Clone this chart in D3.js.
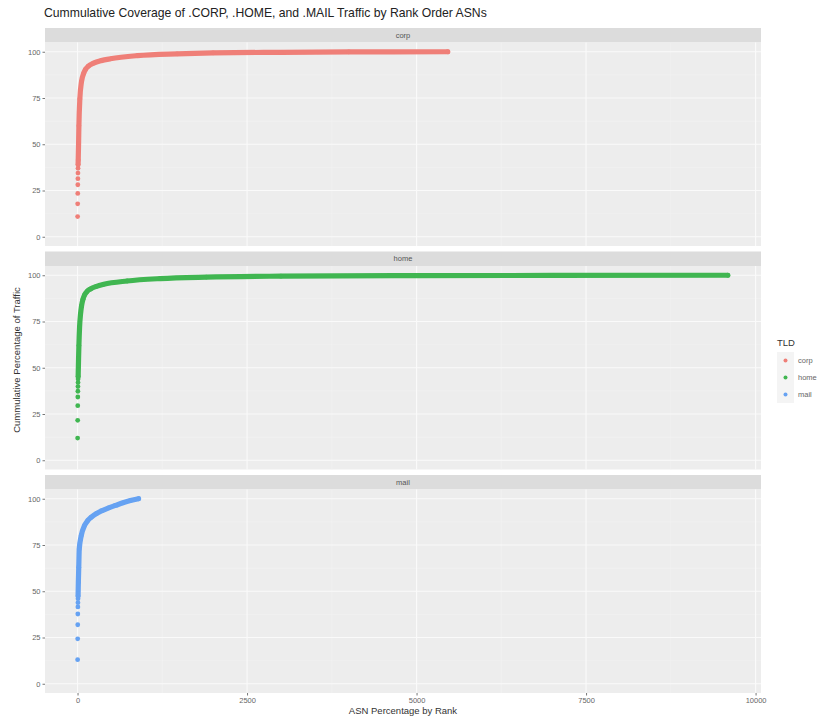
<!DOCTYPE html>
<html>
<head>
<meta charset="utf-8">
<script src="https://cdnjs.cloudflare.com/ajax/libs/d3/7.8.5/d3.min.js"></script>
<style>
  body { margin: 0; background: #fff; }
  svg { font-family: "Liberation Sans", Arial, sans-serif; }
</style>
</head>
<body>
<svg id="chart" width="817" height="717"></svg>
<script>
// facet names and colours (ggplot defaults)
var tlds = ["corp", "home", "mail"];
var colors = ["#EF7F78", "#40B651", "#66A2F2"];

// rank order of ASN vs cumulative % of traffic
var corpRank = [1, 2, 3, 4, 5, 6, 7, 8, 10, 15, 20, 34, 59, 90, 118, 160, 236, 350, 486, 884, 1470, 2000, 3000, 4000, 5460];
var corpPct  = [10.9, 17.8, 23.4, 28.1, 31.4, 34.4, 37, 39, 41.5, 50, 60, 74.5, 84, 88.3, 90.5, 92.2, 93.8, 95.2, 96.2, 97.9, 98.9, 99.4, 99.7, 99.9, 100];

var homeRank = [1, 2, 3, 4, 5, 6, 7, 8, 9, 15, 20, 30, 44, 59, 80, 103, 140, 192, 280, 387, 732, 1220, 1900, 3000, 5000, 7000, 9590];
var homePct  = [12, 21.6, 29.5, 34.2, 37.3, 39.8, 42, 43.9, 45.3, 55, 62, 72, 79, 83.5, 87, 89.3, 91.2, 92.6, 94, 95.1, 96.9, 98.2, 99, 99.5, 99.8, 99.9, 100];

var mailRank = [1, 2, 3, 4, 5, 6, 7, 8, 12, 18, 25, 54, 103, 150, 202, 280, 364, 460, 560, 670, 780, 900];
var mailPct  = [13, 24.3, 31.9, 37.7, 41.5, 43.8, 46, 47.4, 55, 63, 72.8, 80, 85.5, 88.2, 90, 92, 93.6, 95.1, 96.4, 97.8, 99, 100];

// rank from which the points overlap into a solid band
var denseFrom = [8, 9, 8];

var xTicks = [0, 2500, 5000, 7500, 10000];
var xMinor = [1250, 3750, 6250, 8750];
var yTicks = [0, 25, 50, 75, 100];
var yMinor = [12.5, 37.5, 62.5, 87.5];

var series = [
  { ranks: corpRank, pct: corpPct },
  { ranks: homeRank, pct: homePct },
  { ranks: mailRank, pct: mailPct }
];

var svg = d3.select("#chart");
var left = 45, right = 761, top0 = 28;
var stripH = 14.5, panelH = 203.5, gap = 5.5;

var x = d3.scaleLinear().domain([-480, 10080]).range([left, right]);

// title
svg.append("text")
  .attr("x", 44).attr("y", 17)
  .style("font-size", "12.2px").style("fill", "#222")
  .text("Cummulative Coverage of .CORP, .HOME, and .MAIL Traffic by Rank Order ASNs");

series.forEach(function(s, i) {
  var stripTop = top0 + i * (stripH + panelH + gap);
  var pTop = stripTop + stripH, pBot = pTop + panelH;
  var y = d3.scaleLinear().domain([-5, 105]).range([pBot, pTop]);
  var g = svg.append("g");

  // strip
  g.append("rect").attr("x", left).attr("y", stripTop)
    .attr("width", right - left).attr("height", stripH).attr("fill", "#DCDCDC");
  g.append("text").attr("x", (left + right) / 2).attr("y", stripTop + stripH / 2 + 2.5)
    .attr("text-anchor", "middle").style("font-size", "7.5px").style("fill", "#555")
    .text(tlds[i]);

  // panel + grid
  g.append("rect").attr("x", left).attr("y", pTop)
    .attr("width", right - left).attr("height", panelH).attr("fill", "#EDEDED");
  g.selectAll(".ymin").data(yMinor).enter().append("line")
    .attr("x1", left).attr("x2", right)
    .attr("y1", function(d) { return y(d); }).attr("y2", function(d) { return y(d); })
    .attr("stroke", "#F3F3F3").attr("stroke-width", 0.6);
  g.selectAll(".xmin").data(xMinor).enter().append("line")
    .attr("y1", pTop).attr("y2", pBot)
    .attr("x1", function(d) { return x(d); }).attr("x2", function(d) { return x(d); })
    .attr("stroke", "#F3F3F3").attr("stroke-width", 0.6);
  g.selectAll(".ymaj").data(yTicks).enter().append("line")
    .attr("x1", left).attr("x2", right)
    .attr("y1", function(d) { return y(d); }).attr("y2", function(d) { return y(d); })
    .attr("stroke", "#FAFAFA").attr("stroke-width", 1.1);
  g.selectAll(".xmaj").data(xTicks).enter().append("line")
    .attr("y1", pTop).attr("y2", pBot)
    .attr("x1", function(d) { return x(d); }).attr("x2", function(d) { return x(d); })
    .attr("stroke", "#FAFAFA").attr("stroke-width", 1.1);

  // y axis
  var yAxis = svg.append("g").attr("transform", "translate(" + left + ",0)")
    .call(d3.axisLeft(y).tickValues(yTicks).tickSize(2.5).tickPadding(2));
  yAxis.select(".domain").remove();
  yAxis.selectAll("line").attr("stroke", "#777");
  yAxis.selectAll("text").style("font-size", "7.5px").style("fill", "#666")
    .style("font-family", "Liberation Sans, Arial, sans-serif");

  // the dense part as a thick band, the first ranks as single dots
  var pts = s.ranks.map(function(r, k) { return [r, s.pct[k]]; });
  var dense = pts.filter(function(p) { return p[0] >= denseFrom[i]; });
  var line = d3.line()
    .x(function(p) { return x(p[0]); })
    .y(function(p) { return y(p[1]); })
    .curve(d3.curveMonotoneX);
  g.append("path").attr("d", line(dense))
    .attr("fill", "none").attr("stroke", colors[i])
    .attr("stroke-width", 5.2).attr("stroke-linecap", "round").attr("stroke-linejoin", "round");
  g.selectAll(".pt").data(pts).enter().append("circle")
    .attr("cx", function(p) { return x(p[0]); })
    .attr("cy", function(p) { return y(p[1]); })
    .attr("r", 2.4).attr("fill", colors[i]);

  if (i === 2) {
    var xAxis = svg.append("g").attr("transform", "translate(0," + pBot + ")")
      .call(d3.axisBottom(x).tickValues(xTicks).tickFormat(d3.format("d")).tickSize(2.5).tickPadding(2));
    xAxis.select(".domain").remove();
    xAxis.selectAll("line").attr("stroke", "#777");
    xAxis.selectAll("text").style("font-size", "7.5px").style("fill", "#666")
      .style("font-family", "Liberation Sans, Arial, sans-serif");
  }
});

// axis titles
svg.append("text").attr("x", (left + right) / 2).attr("y", 714)
  .attr("text-anchor", "middle").style("font-size", "9.5px").style("fill", "#333")
  .text("ASN Percentage by Rank");
svg.append("text").attr("transform", "translate(20,360) rotate(-90)")
  .attr("text-anchor", "middle").style("font-size", "9.5px").style("fill", "#333")
  .text("Cummulative Percentage of Traffic");

// legend
var lg = svg.append("g").attr("transform", "translate(777,336)");
lg.append("text").attr("x", 0).attr("y", 10).style("font-size", "9.5px").style("fill", "#333").text("TLD");
tlds.forEach(function(t, i) {
  var ky = 16 + i * 17;
  lg.append("rect").attr("x", 0).attr("y", ky).attr("width", 17).attr("height", 17).attr("fill", "#F4F4F4");
  lg.append("circle").attr("cx", 8.5).attr("cy", ky + 8.5).attr("r", 2).attr("fill", colors[i]);
  lg.append("text").attr("x", 21).attr("y", ky + 11).style("font-size", "7.5px").style("fill", "#666").text(t);
});
</script>
</body>
</html>
